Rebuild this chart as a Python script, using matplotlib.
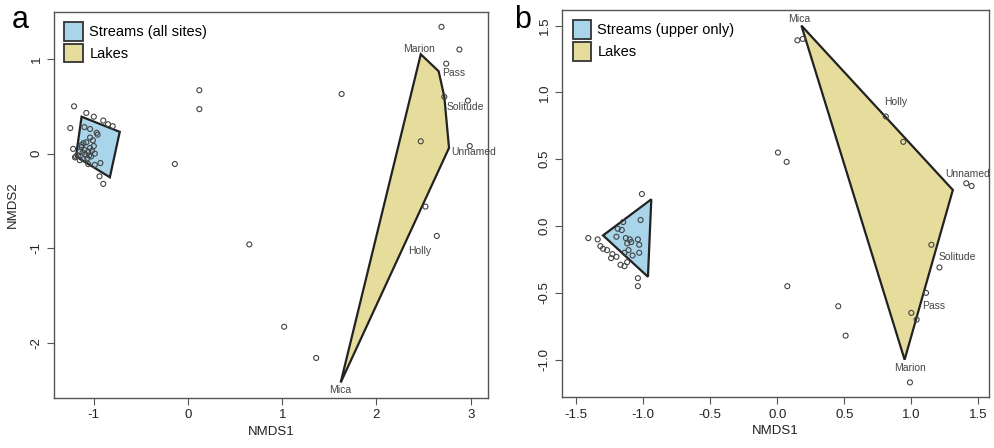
import matplotlib.pyplot as plt
from matplotlib.patches import Polygon, Patch

plt.rcParams['font.family'] = ['Liberation Sans', 'DejaVu Sans']
plt.rcParams['axes.unicode_minus'] = False

STREAM_COL = '#a9d5eb'
LAKE_COL = '#e6dd9d'
EDGE = '#222222'
PT = '#444444'

# ---- panel a: all sites ----
a_site_x = [-1.21, -1.25, -1.08, -1.00, -0.90, -0.85, -0.80, -1.10, -1.04, -0.97,
            -1.04, -1.00, -1.11, -1.22, -1.20, -1.15, -1.06, -0.99, -0.93, -0.94,
            -0.90, -1.13, -1.10, -1.06, -1.09, -1.17, -1.03, -1.07, -1.12, -1.04,
            -0.99, -1.15, -1.19, -1.11, -1.01, -1.08, -1.05, -1.13, -1.02, -0.96,
            0.12, 0.12, -0.14, 1.63, 0.65, 1.02, 1.36,
            2.69, 2.88, 2.74, 2.72, 2.97, 2.47, 2.99, 2.52, 2.64]
a_site_y = [0.50, 0.27, 0.43, 0.39, 0.35, 0.31, 0.29, 0.28, 0.26, 0.22,
            0.17, 0.08, 0.11, 0.05, -0.04, -0.07, -0.11, -0.12, -0.10, -0.24,
            -0.32, 0.07, 0.04, 0.02, -0.01, -0.02, -0.03, -0.05, 0.01, 0.06,
            0.00, 0.02, -0.03, -0.06, 0.14, 0.12, -0.02, 0.09, 0.03, 0.20,
            0.67, 0.47, -0.11, 0.63, -0.96, -1.83, -2.16,
            1.34, 1.10, 0.95, 0.60, 0.56, 0.13, 0.08, -0.56, -0.87]
a_stream_hull_x = [-1.13, -0.725, -0.83, -1.19]
a_stream_hull_y = [0.39, 0.23, -0.25, -0.03]
a_lake_hull_x = [2.47, 2.66, 2.72, 2.77, 1.62]
a_lake_hull_y = [1.05, 0.87, 0.60, 0.06, -2.42]
a_lake_names = ['Marion', 'Pass', 'Solitude', 'Unnamed', 'Holly', 'Mica']
a_label_x = [2.45, 2.82, 2.94, 3.03, 2.46, 1.62]
a_label_y = [1.11, 0.85, 0.49, 0.02, -1.03, -2.50]

# ---- panel b: upper streams only ----
b_site_x = [-1.01, -1.41, -1.02, -1.15, -1.19, -1.16, -1.20, -1.13, -1.10, -1.04,
            -1.12, -1.09, -1.03, -1.11, -1.03, -1.08, -1.34, -1.32, -1.30, -1.27,
            -1.23, -1.20, -1.24, -1.14, -1.17, -1.14, -1.12, -1.04, -1.04,
            0.15, 0.19, 0.81, 0.94, 1.41, 1.45, 1.15, 1.21, 1.11, 1.00, 1.04, 0.99,
            0.005, 0.07, 0.075, 0.455, 0.51]
b_site_y = [0.24, -0.09, 0.045, 0.03, -0.02, -0.03, -0.08, -0.09, -0.10, -0.10,
            -0.13, -0.12, -0.14, -0.18, -0.20, -0.22, -0.10, -0.15, -0.17, -0.18,
            -0.21, -0.23, -0.24, -0.20, -0.29, -0.30, -0.27, -0.39, -0.45,
            1.39, 1.40, 0.82, 0.63, 0.32, 0.30, -0.14, -0.31, -0.50, -0.65, -0.70, -1.17,
            0.55, 0.48, -0.45, -0.60, -0.82]
b_stream_hull_x = [-1.30, -0.94, -0.965]
b_stream_hull_y = [-0.07, 0.20, -0.38]
b_lake_hull_x = [0.18, 1.31, 0.95]
b_lake_hull_y = [1.50, 0.27, -1.00]
b_lake_names = ['Mica', 'Holly', 'Unnamed', 'Solitude', 'Pass', 'Marion']
b_label_x = [0.16, 0.88, 1.42, 1.34, 1.17, 0.99]
b_label_y = [1.55, 0.93, 0.39, -0.23, -0.60, -1.06]


def panel(ax, sx, sy, shx, shy, lhx, lhy, names, lx, ly, leg_label):
    ax.add_patch(Polygon(list(zip(shx, shy)), closed=True, facecolor=STREAM_COL,
                         edgecolor=EDGE, lw=1.6, zorder=2))
    ax.add_patch(Polygon(list(zip(lhx, lhy)), closed=True, facecolor=LAKE_COL,
                         edgecolor=EDGE, lw=1.6, zorder=2))
    ax.scatter(sx, sy, s=13, facecolors='none', edgecolors=PT, linewidths=0.8, zorder=3)
    for n, x, y in zip(names, lx, ly):
        ax.text(x, y, n, fontsize=7.5, color='#444444', ha='center', va='center',
                clip_on=False, zorder=4)
    handles = [Patch(facecolor=STREAM_COL, edgecolor='#333333', lw=1.3, label=leg_label),
               Patch(facecolor=LAKE_COL, edgecolor='#333333', lw=1.3, label='Lakes')]
    ax.legend(handles=handles, loc='upper left', frameon=False, fontsize=10.5,
              handlelength=1.25, handleheight=1.6, handletextpad=0.45,
              borderaxespad=0.3, labelspacing=0.2)
    for s in ax.spines.values():
        s.set_color('#555555')
        s.set_linewidth(1.0)
    ax.tick_params(direction='out', length=5, color='#555555', labelsize=9.5,
                   labelcolor='#222222')
    for t in ax.get_yticklabels():
        t.set_rotation(90)
        t.set_va('center')
    ax.set_xlabel('NMDS1', fontsize=9.5, color='#222222', labelpad=3)


fig = plt.figure(figsize=(9.94, 4.48), dpi=100)
ax1 = fig.add_axes([0.0546, 0.1123, 0.436, 0.8616])
ax2 = fig.add_axes([0.5657, 0.1145, 0.4293, 0.863])

ax1.set_xlim(-1.42, 3.18)
ax1.set_ylim(-2.58, 1.50)
ax1.set_xticks([-1, 0, 1, 2, 3])
ax1.set_yticks([-2, -1, 0, 1])
panel(ax1, a_site_x, a_site_y, a_stream_hull_x, a_stream_hull_y,
      a_lake_hull_x, a_lake_hull_y, a_lake_names, a_label_x, a_label_y,
      'Streams (all sites)')
ax1.set_ylabel('NMDS2', fontsize=9.5, color='#222222', labelpad=8)

ax2.set_xlim(-1.604, 1.58)
ax2.set_ylim(-1.277, 1.616)
ax2.set_xticks([-1.5, -1.0, -0.5, 0.0, 0.5, 1.0, 1.5])
ax2.set_yticks([-1.0, -0.5, 0.0, 0.5, 1.0, 1.5])
ax2.xaxis.set_major_formatter(plt.FormatStrFormatter('%.1f'))
ax2.yaxis.set_major_formatter(plt.FormatStrFormatter('%.1f'))
panel(ax2, b_site_x, b_site_y, b_stream_hull_x, b_stream_hull_y,
      b_lake_hull_x, b_lake_hull_y, b_lake_names, b_label_x, b_label_y,
      'Streams (upper only)')

fig.text(0.012, 0.955, 'a', fontsize=22, ha='left', va='center')
fig.text(0.517, 0.955, 'b', fontsize=22, ha='left', va='center')

fig.savefig('out.png', dpi=100)
